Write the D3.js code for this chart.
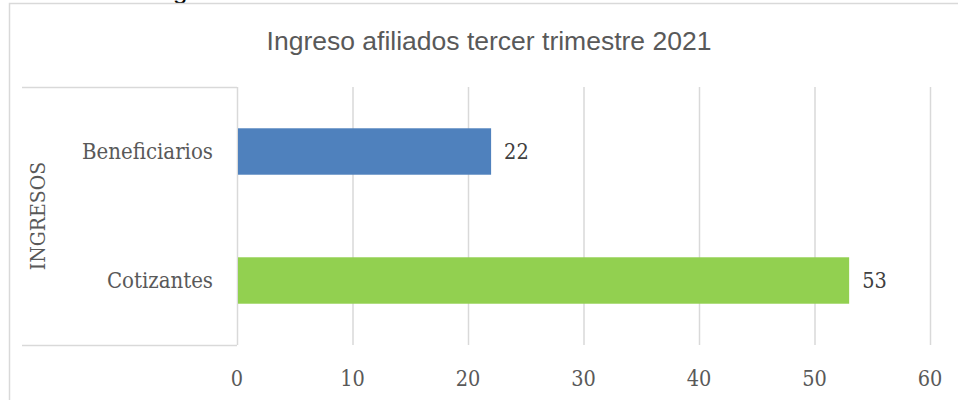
<!DOCTYPE html>
<html><head><meta charset="utf-8">
<script src="https://cdn.jsdelivr.net/npm/d3@7"></script>
<style>html,body{margin:0;padding:0;background:#fff;}svg{display:block;}</style>
</head><body>
<svg id="chart" width="958" height="400"></svg>
<script>
const categories = ["Beneficiarios", "Cotizantes"];
const values = [22, 53];
const colors = ["#4F81BD", "#92D050"];
const xTicks = [0, 10, 20, 30, 40, 50, 60];
const title = "Ingreso afiliados tercer trimestre 2021";
const axisTitle = "INGRESOS";

const svg = d3.select("#chart");
const serif = "'DejaVu Serif Condensed','DejaVu Serif',serif";
const sans = "'Liberation Sans',Arial,sans-serif";
const grid = "#d9d9d9";

// partial caption cut off at top (as in the reference)
svg.append("text").attr("x", 173).attr("y", -1).attr("font-family", sans)
  .attr("font-size", 26).attr("fill", "#000").text("g");

// outer frame
svg.append("rect").attr("x", 9.5).attr("y", 3.5).attr("width", 960).attr("height", 420)
  .attr("fill", "none").attr("stroke", grid).attr("stroke-width", 1.5);

svg.append("text").attr("x", 489).attr("y", 50).attr("text-anchor", "middle")
  .attr("font-family", sans).attr("font-size", 26.5).attr("fill", "#595959").text(title);

const m = {left: 237, right: 930, top: 87, bottom: 345};
const x = d3.scaleLinear().domain([0, 60]).range([m.left, m.right]);
const y = d3.scaleBand().domain(categories).range([m.top, m.bottom]).paddingInner(0.64).paddingOuter(0.32);

// gridlines
svg.append("g").selectAll("line").data(xTicks).join("line")
  .attr("x1", d => x(d) + 0.5).attr("x2", d => x(d) + 0.5)
  .attr("y1", m.top).attr("y2", m.bottom)
  .attr("stroke", grid).attr("stroke-width", 1.5);

// category axis box lines
svg.append("line").attr("x1", 22).attr("x2", m.left).attr("y1", m.top + 0.5).attr("y2", m.top + 0.5)
  .attr("stroke", grid).attr("stroke-width", 1.5);
svg.append("line").attr("x1", 22).attr("x2", m.left).attr("y1", m.bottom + 0.5).attr("y2", m.bottom + 0.5)
  .attr("stroke", grid).attr("stroke-width", 1.5);

// bars
svg.append("g").selectAll("rect").data(categories).join("rect")
  .attr("x", x(0) + 1).attr("y", d => y(d))
  .attr("width", (d, i) => x(values[i]) - x(0) - 1).attr("height", y.bandwidth())
  .attr("fill", (d, i) => colors[i]);

// value labels
svg.append("g").selectAll("text").data(categories).join("text")
  .attr("x", (d, i) => x(values[i]) + 13).attr("y", d => y(d) + y.bandwidth() / 2)
  .attr("dy", "0.35em").attr("font-family", serif).attr("font-size", 21.5).attr("fill", "#404040")
  .text((d, i) => values[i]);

// category labels
svg.append("g").selectAll("text").data(categories).join("text")
  .attr("x", 213).attr("y", d => y(d) + y.bandwidth() / 2)
  .attr("dy", "0.35em").attr("text-anchor", "end")
  .attr("font-family", serif).attr("font-size", 22).attr("fill", "#595959").text(d => d);

// x tick labels
svg.append("g").selectAll("text").data(xTicks).join("text")
  .attr("x", d => x(d)).attr("y", 386).attr("text-anchor", "middle")
  .attr("font-family", serif).attr("font-size", 21.5).attr("fill", "#595959").text(d => d);

// axis title
svg.append("text").attr("transform", "translate(45,216) rotate(-90)").attr("text-anchor", "middle")
  .attr("font-family", serif).attr("font-size", 21).attr("fill", "#595959").text(axisTitle);
</script>
</body></html>
